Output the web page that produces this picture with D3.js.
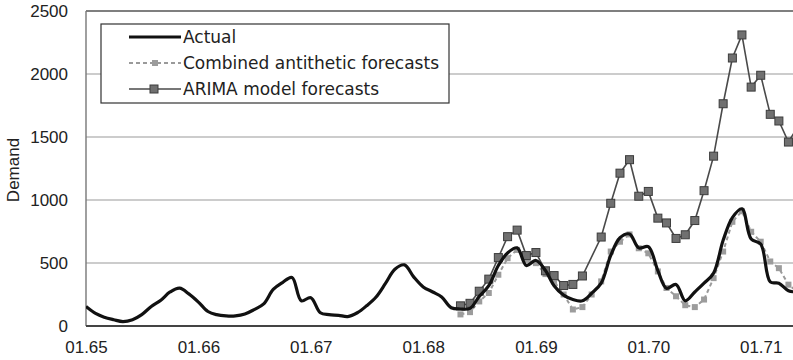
<!DOCTYPE html>
<html>
<head>
<meta charset="utf-8">
<script src="https://cdn.jsdelivr.net/npm/d3@7/dist/d3.min.js"></script>
<style>
  html, body { margin: 0; padding: 0; background: #fff; }
  svg { display: block; }
  text { font-family: "Liberation Sans", Arial, sans-serif; fill: #222; }
</style>
</head>
<body>
<svg id="chart" width="793" height="360"></svg>
<script>
// ---- data (monthly, starting January 1965) ----
const startYear = 1965;
const forecastStartMonth = 40; // index of first forecast month
const actual = [155, 100, 70, 50, 35, 50, 90, 155, 205, 270, 300, 255, 190, 115, 90, 80, 80, 95,
  130, 175, 290, 345, 385, 200, 225, 105, 90, 85, 75, 105, 160, 230, 340, 450, 485, 390, 310, 270,
  230, 145, 135, 140, 235, 320, 480, 580, 620, 480, 520, 440, 320, 245, 210, 200, 260, 340, 560,
  700, 730, 620, 630, 440, 300, 330, 200, 270, 340, 420, 680, 860, 930, 690, 650, 350, 340, 280, 270];
const combined = [92, 110, 195, 262, 407, 538, 604, 525, 499, 412, 354, 250, 131, 150, 250, 354,
  591, 669, 727, 617, 577, 433, 302, 236, 165, 150, 210, 380, 591, 827, 911, 748, 669, 512, 459, 328, 270];
const arima = [160, 180, 276, 372, 543, 709, 761, 559, 583, 438, 400, 321, 330, 397, null, 706,
  974, 1213, 1320, 1030, 1068, 856, 818, 695, 724, 837, 1074, 1348, 1764, 2127, 2310, 1896, 1990,
  1680, 1627, 1460, 1580];
const yTicks = [0, 500, 1000, 1500, 2000, 2500];
const seriesNames = ["Actual", "Combined antithetic forecasts", "ARIMA model forecasts"];
const yLabel = "Demand";

// ---- build ----
const svg = d3.select("#chart");
const W = 793, H = 360;
const mDate = m => new Date(startYear, m, 1);

const x = d3.scaleTime()
  .domain([new Date(1965, 0, 1), new Date(1971, 7, 1)])
  .range([86, 826]);
const y = d3.scaleLinear().domain([0, 2500]).range([326, 11]);

const actualData = actual.map((v, i) => ({ d: mDate(i), v }));
const combinedData = combined.map((v, i) => ({ d: mDate(forecastStartMonth + i), v }));
const arimaData = arima.map((v, i) => ({ d: mDate(forecastStartMonth + i), v })).filter(p => p.v != null);

svg.append("clipPath").attr("id", "plotclip")
  .append("rect").attr("x", 86).attr("y", 0).attr("width", W - 86).attr("height", 327);

// gridlines
svg.append("g").selectAll("line")
  .data(yTicks.filter(t => t > 0 && t < 2500))
  .join("line")
  .attr("x1", 86).attr("x2", W)
  .attr("y1", d => y(d)).attr("y2", d => y(d))
  .attr("stroke", "#9a9a9a").attr("stroke-width", 1.2);

// plot border (top + left)
svg.append("line").attr("x1", 86).attr("x2", W).attr("y1", y(2500)).attr("y2", y(2500))
  .attr("stroke", "#555").attr("stroke-width", 1.6);
svg.append("line").attr("x1", 86).attr("x2", 86).attr("y1", y(2500)).attr("y2", y(0))
  .attr("stroke", "#777").attr("stroke-width", 1.4);

// y axis labels
const yAxis = svg.append("g").attr("transform", "translate(86,0)")
  .call(d3.axisLeft(y).tickValues(yTicks).tickFormat(d3.format("d")).tickSize(0).tickPadding(18));
yAxis.select(".domain").remove();
yAxis.selectAll("text").attr("font-size", 17).attr("font-family", "Liberation Sans, Arial, sans-serif").attr("fill", "#222");

// x axis labels
const xAxis = svg.append("g").attr("transform", "translate(0,326)")
  .call(d3.axisBottom(x).ticks(d3.timeYear.every(1)).tickFormat(d3.timeFormat("%m.%y")).tickSize(0).tickPadding(15));
xAxis.select(".domain").remove();
xAxis.selectAll("text").attr("font-size", 17).attr("font-family", "Liberation Sans, Arial, sans-serif").attr("fill", "#222");

svg.append("line").attr("x1", 86).attr("x2", W).attr("y1", y(0)).attr("y2", y(0))
  .attr("stroke", "#444").attr("stroke-width", 2);

// y label
svg.append("text")
  .attr("transform", "translate(19,170) rotate(-90)")
  .attr("text-anchor", "middle")
  .attr("font-size", 17)
  .text(yLabel);

const plot = svg.append("g").attr("clip-path", "url(#plotclip)");

// combined antithetic forecasts
const lineLin = d3.line().x(p => x(p.d)).y(p => y(p.v));
plot.append("path").datum(combinedData)
  .attr("d", lineLin).attr("fill", "none")
  .attr("stroke", "#9a9a9a").attr("stroke-width", 2).attr("stroke-dasharray", "4,3");
plot.append("g").selectAll("rect").data(combinedData).join("rect")
  .attr("x", p => x(p.d) - 3).attr("y", p => y(p.v) - 3)
  .attr("width", 6).attr("height", 6).attr("fill", "#9c9c9c");

// ARIMA
plot.append("path").datum(arimaData)
  .attr("d", lineLin).attr("fill", "none")
  .attr("stroke", "#4a4a4a").attr("stroke-width", 1.6);
plot.append("g").selectAll("rect").data(arimaData).join("rect")
  .attr("x", p => x(p.d) - 4).attr("y", p => y(p.v) - 4)
  .attr("width", 8).attr("height", 8)
  .attr("fill", "#707070").attr("stroke", "#3c3c3c").attr("stroke-width", 1);

// actual
const lineSmooth = d3.line().x(p => x(p.d)).y(p => y(p.v)).curve(d3.curveCatmullRom.alpha(0.5));
plot.append("path").datum(actualData)
  .attr("d", lineSmooth).attr("fill", "none")
  .attr("stroke", "#111").attr("stroke-width", 3.2).attr("stroke-linejoin", "round");

// legend
const lg = svg.append("g");
lg.append("rect").attr("x", 101).attr("y", 24).attr("width", 348).attr("height", 79)
  .attr("fill", "#fff").attr("stroke", "#333").attr("stroke-width", 1.2);
const rows = [37, 63, 89];
lg.append("line").attr("x1", 129).attr("x2", 181).attr("y1", rows[0]).attr("y2", rows[0])
  .attr("stroke", "#111").attr("stroke-width", 3.2);
lg.append("line").attr("x1", 129).attr("x2", 181).attr("y1", rows[1]).attr("y2", rows[1])
  .attr("stroke", "#9a9a9a").attr("stroke-width", 2).attr("stroke-dasharray", "4,3");
lg.append("rect").attr("x", 152).attr("y", rows[1] - 3).attr("width", 6).attr("height", 6).attr("fill", "#9c9c9c");
lg.append("line").attr("x1", 129).attr("x2", 181).attr("y1", rows[2]).attr("y2", rows[2])
  .attr("stroke", "#4a4a4a").attr("stroke-width", 1.6);
lg.append("rect").attr("x", 150).attr("y", rows[2] - 4).attr("width", 8).attr("height", 8)
  .attr("fill", "#707070").attr("stroke", "#3c3c3c");
lg.selectAll("text.lbl").data(seriesNames).join("text")
  .attr("class", "lbl")
  .attr("x", 183).attr("y", (d, i) => rows[i]).attr("dy", "0.36em")
  .attr("font-size", 17)
  .style("font-family", "'DejaVu Sans', sans-serif")
  .text(d => d);
</script>
</body>
</html>
